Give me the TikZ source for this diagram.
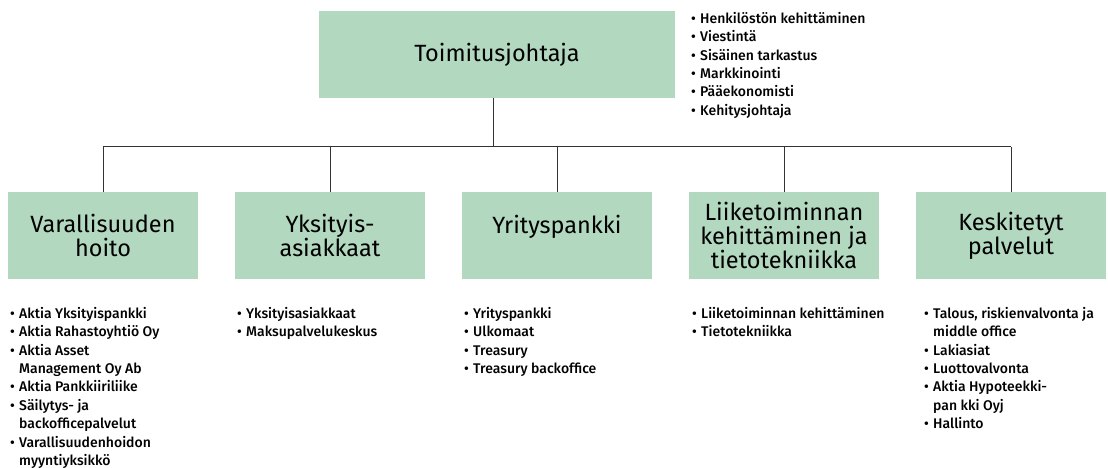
\documentclass[tikz,border=0pt]{standalone}
\usepackage{fontspec}
\setmainfont{Fira Sans}[UprightFont={* Medium}]
\newfontfamily\headfont{Fira Sans}
\definecolor{boxgreen}{RGB}{178,216,191}
\tikzset{
  unit/.style={fill=boxgreen, minimum width=190pt, minimum height=87pt,
    inner sep=0pt, align=center, font=\headfont\fontsize{23.5}{24}\selectfont},
  list/.style={anchor=north west, inner sep=0pt, align=left,
    font=\fontsize{14}{18.4}\selectfont},
  link/.style={draw=black!80, line width=1pt}
}
\newcommand{\itm}[1]{\makebox[9pt][l]{•}#1}
\newcommand{\cnt}[1]{\hspace*{9pt}#1}

\begin{document}
\begin{tikzpicture}[x=1pt,y=-1pt]
  \useasboundingbox (0,0) rectangle (1108,468);
  % boxes
  \node [unit, minimum width=356pt] (ceo) at (497,54.5) {Toimitusjohtaja};
  \node [unit] (u1) at (103,235.5) {Varallisuuden\\hoito};
  \node [unit] (u2) at (330,235.5) {Yksityis-\\asiakkaat};
  \node [unit, text depth=22pt] (u3) at (557,235.5) {Yrityspankki};
  \node [unit] (u4) at (784,235.5) {Liiketoiminnan\\kehittäminen ja\\tietotekniikka};
  \node [unit] (u5) at (1011,235.5) {Keskitetyt\\palvelut};
  % connectors
  \coordinate (bar) at (0,147);
  \draw [link] ([xshift=-4pt]ceo.south) -- ([xshift=-4pt]ceo.south |- bar);
  \draw [link] (u1.north |- bar) -- (u5.north |- bar);
  \foreach \u in {u1,u2,u3,u4,u5}{
    \draw [link] (\u.north |- bar) -- (\u.north);
  }
  % lists
  \node [list] (staff) at (691,12) {\itm{Henkilöstön kehittäminen}\\\itm{Viestintä}\\
    \itm{Sisäinen tarkastus}\\\itm{Markkinointi}\\\itm{Pääekonomisti}\\\itm{Kehitysjohtaja}};
  \node [list] (l1) at (10,307) {\itm{Aktia Yksityispankki}\\\itm{Aktia Rahastoyhtiö Oy}\\
    \itm{Aktia Asset}\\\cnt{Management Oy Ab}\\\itm{Aktia Pankkiiriliike}\\
    \itm{Säilytys- ja}\\\cnt{backofficepalvelut}\\\itm{Varallisuudenhoidon}\\\cnt{myyntiyksikkö}};
  \node [list] (l2) at (237,307) {\itm{Yksityisasiakkaat}\\\itm{Maksupalvelukeskus}};
  \node [list] (l3) at (464,307) {\itm{Yrityspankki}\\\itm{Ulkomaat}\\\itm{Treasury}\\\itm{Treasury backoffice}};
  \node [list] (l4) at (692,307) {\itm{Liiketoiminnan kehittäminen}\\\itm{Tietotekniikka}};
  \node [list] (l5) at (924,307) {\itm{Talous, riskienvalvonta ja}\\\cnt{middle office}\\
    \itm{Lakiasiat}\\\itm{Luottovalvonta}\\\itm{Aktia Hypoteekki-}\\\cnt{pan kki Oyj}\\\itm{Hallinto}};
\end{tikzpicture}
\end{document}
